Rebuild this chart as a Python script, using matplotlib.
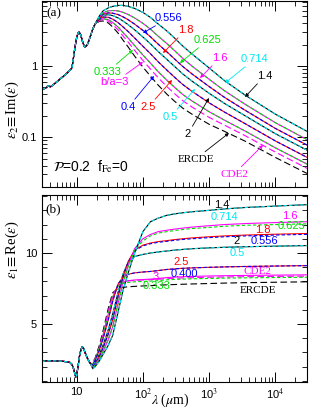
import matplotlib
matplotlib.use('Agg')
import matplotlib.pyplot as plt
import matplotlib.ticker as ticker

plt.rcParams['font.family'] = ['Liberation Sans', 'DejaVu Sans']
plt.rcParams['mathtext.fontset'] = 'stix'

# wavelengths (micron); the short part is shared by every curve
lam_short_a = [3, 3.4, 3.7, 4.0, 4.5, 5, 6, 7, 8, 8.5, 9.0, 9.5, 10, 10.5, 10.9,
               11.5, 12.2, 13.0, 13.5, 14.5, 15.5, 16.5]
eps2_short = [0.47, 0.49, 0.53, 0.51, 0.55, 0.60, 0.69, 0.78, 0.88, 0.95, 1.35,
              1.9, 2.5, 2.9, 3.0, 2.75, 2.25, 1.9, 1.85, 2.0, 2.35, 2.8]
lam_short_b = [3, 3.5, 4, 5, 6, 7, 7.9, 8.5, 9.0, 9.4, 9.7, 10.0, 10.5, 11.0,
               11.6, 12.2, 12.8, 13.5, 14.5, 15.5, 16.5]
eps1_short = [2.35, 2.42, 2.42, 2.40, 2.38, 2.35, 2.3, 2.15, 1.85, 1.5, 1.27,
              1.4, 2.0, 2.7, 3.2, 3.4, 3.25, 2.95, 2.6, 2.35, 2.15]
lam_long = [17.5, 19, 22, 25, 30, 35, 42, 50, 60, 75, 100, 130, 170, 230, 300,
            400, 550, 1000, 1700, 3500, 10000, 30000]

# Im(eps), long-wavelength part
e2_14 = [3.3, 3.90, 5.06, 5.95, 6.56, 6.89, 7.11, 7.11, 6.89, 6.45, 5.67, 4.82, 3.90,
         3.11, 2.48, 1.91, 1.48, 0.94, 0.625, 0.39, 0.211, 0.121]
e2_16 = [3.3, 3.91, 4.89, 5.58, 5.96, 6.03, 5.96, 5.69, 5.30, 4.74, 3.98, 3.30, 2.63,
         2.07, 1.65, 1.28, 1.00, 0.652, 0.451, 0.290, 0.160, 0.0927]
e2_18 = [3.3, 3.91, 4.77, 5.35, 5.58, 5.53, 5.30, 4.92, 4.47, 3.88, 3.17, 2.58, 2.03,
         1.585, 1.26, 0.986, 0.776, 0.515, 0.364, 0.239, 0.133, 0.0776]
e2_2 = [3.3, 3.91, 4.67, 5.15, 5.27, 5.11, 4.76, 4.30, 3.81, 3.23, 2.56, 2.05, 1.60,
        1.24, 0.989, 0.774, 0.615, 0.414, 0.299, 0.200, 0.112, 0.0659]
e2_25 = [3.3, 3.91, 4.53, 4.88, 4.85, 4.56, 4.09, 3.56, 3.05, 2.48, 1.90, 1.49, 1.15,
         0.877, 0.698, 0.550, 0.442, 0.304, 0.226, 0.155, 0.0887, 0.0522]
e2_3 = [3.3, 3.91, 4.41, 4.62, 4.49, 4.10, 3.55, 2.97, 2.47, 1.94, 1.43, 1.10, 0.834,
        0.632, 0.504, 0.398, 0.324, 0.228, 0.174, 0.122, 0.0710, 0.0420]
e2_cde2 = [3.3, 3.91, 4.33, 4.48, 4.28, 3.84, 3.24, 2.65, 2.17, 1.66, 1.20, 0.908,
           0.684, 0.515, 0.410, 0.326, 0.266, 0.190, 0.148, 0.105, 0.0618, 0.0366]
e2_ercde = [3.3, 3.90, 4.24, 4.30, 4.03, 3.54, 2.92, 2.32, 1.85, 1.38, 0.968, 0.723,
            0.540, 0.403, 0.321, 0.256, 0.211, 0.152, 0.121, 0.088, 0.052, 0.031]

# Re(eps), long-wavelength part
e1_14 = [1.85, 2.0, 2.4, 2.85, 3.5, 4.2, 5.8, 7.35, 8.6, 10.0, 11.5, 12.2, 12.45, 12.65,
         12.75, 12.83, 12.9, 13.0, 13.1, 13.2, 13.3, 13.4]
e1_16 = [1.9, 2.1, 2.55, 3.05, 3.9, 4.8, 6.4, 7.9, 9.1, 10.3, 11.0, 11.3, 11.5, 11.6,
         11.68, 11.75, 11.82, 11.92, 12.0, 12.07, 12.14, 12.2]
e1_0625 = [1.9, 2.1, 2.55, 3.05, 3.9, 4.8, 6.4, 7.9, 9.05, 10.2, 10.85, 11.2, 11.4, 11.5,
           11.58, 11.65, 11.72, 11.8, 11.88, 11.95, 12.0, 12.05]
e1_18 = [1.95, 2.2, 2.7, 3.3, 4.3, 5.3, 6.9, 8.3, 9.4, 10.2, 10.55, 10.7, 10.8, 10.87,
         10.94, 11.0, 11.06, 11.14, 11.2, 11.26, 11.32, 11.37]
e1_0556 = [1.95, 2.2, 2.7, 3.3, 4.3, 5.3, 6.9, 8.3, 9.35, 10.15, 10.5, 10.65, 10.75,
           10.82, 10.89, 10.95, 11.0, 11.08, 11.14, 11.2, 11.26, 11.31]
e1_2 = [2.0, 2.3, 2.85, 3.5, 4.6, 5.7, 7.2, 8.5, 9.35, 9.75, 9.9, 10.0, 10.07, 10.14,
        10.2, 10.25, 10.3, 10.36, 10.4, 10.44, 10.48, 10.52]
e1_25 = [2.1, 2.45, 3.15, 3.95, 5.3, 6.6, 7.8, 8.3, 8.5, 8.6, 8.66, 8.7, 8.76, 8.84,
         8.88, 8.92, 8.95, 8.99, 9.02, 9.05, 9.08, 9.11]
e1_3 = [2.2, 2.5, 3.3, 4.2, 5.7, 6.9, 7.7, 7.95, 8.05, 8.1, 8.13, 8.16, 8.2, 8.27, 8.3,
        8.33, 8.35, 8.38, 8.4, 8.42, 8.44, 8.46]
e1_0333 = [2.2, 2.5, 3.3, 4.2, 5.7, 6.9, 7.65, 7.85, 7.93, 7.97, 8.0, 8.02, 8.05, 8.11,
           8.14, 8.16, 8.18, 8.21, 8.23, 8.25, 8.27, 8.29]
e1_cde2 = [2.25, 2.55, 3.35, 4.3, 5.9, 7.0, 7.7, 7.95, 8.03, 8.07, 8.1, 8.12, 8.15,
           8.19, 8.22, 8.24, 8.26, 8.29, 8.31, 8.33, 8.35, 8.37]
e1_ercde = [2.3, 2.6, 3.5, 4.5, 6.1, 7.2, 7.5, 7.58, 7.62, 7.65, 7.68, 7.7, 7.73, 7.76,
            7.78, 7.8, 7.82, 7.85, 7.88, 7.91, 7.94, 7.97]

MAG, GRN, CYN, BLU, RED, BLK = '#ff00ff', '#00dd00', '#00e8f0', '#0000ff', '#ff0000', 'k'

# (top data, bottom data, colour, line style) ; prolate first, oblate partner dashed on top
curves = [
    (e2_ercde, e1_ercde, BLK, (0, (6, 3))),
    (e2_cde2, e1_cde2, MAG, (0, (6, 3))),
    (e2_3, e1_3, MAG, '-'), (e2_3, e1_0333, GRN, (0, (3, 2))),
    (e2_25, e1_25, RED, '-'), (e2_25, e1_25, BLU, (0, (3, 2))),
    (e2_2, e1_2, BLK, '-'), (e2_2, e1_2, CYN, (0, (3, 2))),
    (e2_18, e1_18, RED, '-'), (e2_18, e1_0556, BLU, (0, (3, 2))),
    (e2_16, e1_16, MAG, '-'), (e2_16, e1_0625, GRN, (0, (3, 2))),
    (e2_14, e1_14, BLK, '-'), (e2_14, e1_14, CYN, (0, (3, 2))),
]

fig = plt.figure(figsize=(3.14, 4.11), dpi=100)
axa = fig.add_axes([42/314, 1-187/411, 265/314, 186/411])
axb = fig.add_axes([42/314, 1-382/411, 265/314, 187/411])

for top, bot, c, ls in curves:
    axa.plot(lam_short_a + lam_long, eps2_short + top, color=c, ls=ls, lw=0.8)
    axb.plot(lam_short_b + lam_long, eps1_short + bot, color=c, ls=ls, lw=0.8)

for ax in (axa, axb):
    ax.set_xscale('log')
    ax.set_xlim(3, 3e4)
    ax.tick_params(which='both', direction='in', top=True, right=True, labelsize=8)
    ax.tick_params(which='major', length=7, width=0.7)
    ax.tick_params(which='minor', length=3.5, width=0.6)
    ax.xaxis.set_minor_locator(ticker.LogLocator(base=10, subs=range(2, 10), numticks=20))
    for s in ax.spines.values():
        s.set_linewidth(0.8)

axa.set_yscale('log')
axa.set_ylim(0.02, 8.2)
axa.yaxis.set_major_locator(ticker.FixedLocator([0.1, 1]))
axa.yaxis.set_major_formatter(ticker.FixedFormatter(['0.1', '1']))
axa.yaxis.set_minor_locator(ticker.LogLocator(base=10, subs=range(2, 10), numticks=20))
axa.yaxis.set_minor_formatter(ticker.NullFormatter())
axa.xaxis.set_major_formatter(ticker.NullFormatter())

axb.set_ylim(0.92, 14.08)
axb.yaxis.set_major_locator(ticker.FixedLocator([5, 10]))
axb.yaxis.set_minor_locator(ticker.MultipleLocator(1))
axb.xaxis.set_major_locator(ticker.FixedLocator([10, 100, 1000, 10000]))
axb.xaxis.set_major_formatter(ticker.FixedFormatter(['10', '10$^2$', '10$^3$', '10$^4$']))
axb.xaxis.set_minor_formatter(ticker.NullFormatter())

serif = ['Liberation Serif', 'DejaVu Serif']
fig.text(12/314, 1-110/411, r'$\epsilon_2\!\equiv$Im($\epsilon$)', rotation=90,
         ha='center', va='center', fontsize=10.5, family=serif)
fig.text(12/314, 1-250/411, r'$\epsilon_1\!\equiv$Re($\epsilon$)', rotation=90,
         ha='center', va='center', fontsize=10.5, family=serif)
fig.text(170/314, 1-400/411, r'$\lambda$ ($\mu$m)', ha='center', va='center',
         fontsize=10, family=serif)


def fa(px, py):
    return ((px - 42) / 265, (187 - py) / 186)


def fb(px, py):
    return ((px - 42) / 265, (382 - py) / 187)


axa.text(*fa(46, 13), '(a)', fontsize=9.5, family=serif, va='center',
         transform=axa.transAxes)
axb.text(*fb(45, 209), '(b)', fontsize=9.5, family=serif, va='center',
         transform=axb.transAxes)
axa.text(*fa(53, 167), r'$\mathcal{P}$=0.2  f$_{\rm Fe}$=0', fontsize=10,
         va='center', transform=axa.transAxes)

# labels with arrows in panel (a): text, colour, text pos, arrow tip, ha, va
arrow_labels = [
    ('0.556', BLU, (155, 18), (143, 33), 'left', 'center'),
    ('1.8', RED, (178, 30), (163, 53), 'left', 'center'),
    ('0.625', GRN, (194, 40), (180, 63), 'left', 'center'),
    ('1.6', MAG, (212, 58), (200, 78), 'left', 'center'),
    ('0.714', CYN, (241, 59), (225, 83), 'left', 'center'),
    ('1.4', BLK, (257, 76), (245, 97), 'left', 'center'),
    ('0.5', CYN, (178, 117), (195, 89), 'right', 'center'),
    ('2', BLK, (191, 134), (209, 98), 'right', 'center'),
    ('ERCDE', BLK, (214, 159), (229, 133), 'right', 'center'),
    ('CDE2', MAG, (248, 174), (263, 145), 'right', 'center'),
    ('2.5', RED, (156, 107), (172, 80), 'right', 'center'),
    ('0.4', BLU, (136, 107), (154, 76), 'right', 'center'),
    ('b/a=3', MAG, (129, 82), (143, 62), 'right', 'center'),
    ('0.333', GRN, (121, 72), (133, 50), 'right', 'center'),
]
for txt, c, tp, tip, ha, va in arrow_labels:
    fam = serif if txt in ('CDE2', 'ERCDE') else None
    axa.annotate(txt, xy=fa(*tip), xytext=fa(*tp), xycoords='axes fraction',
                 textcoords='axes fraction', color=c, fontsize=8, ha=ha, va=va,
                 family=fam,
                 arrowprops=dict(arrowstyle='-|>', color=c, lw=0.6, mutation_scale=5,
                                 shrinkA=0, shrinkB=0))

# labels in panel (b)
plain_labels = [
    ('1.4', BLK, (222, 205)), ('0.714', CYN, (224, 217)), ('1.6', MAG, (290, 216)),
    ('0.625', GRN, (291, 226)), ('1.8', RED, (263, 230)), ('2', BLK, (237, 241)),
    ('0.556', BLU, (264, 241)), ('0.5', CYN, (237, 253)), ('2.5', RED, (181, 262)),
    ('0.400', BLU, (184, 274)), ('3', MAG, (156, 277)), ('0.333', GRN, (157, 286)),
    ('CDE2', MAG, (257, 271)), ('ERCDE', BLK, (258, 290)),
]
for txt, c, pos in plain_labels:
    fam = serif if txt in ('CDE2', 'ERCDE') else None
    axb.text(*fb(*pos), txt, color=c, fontsize=8, ha='center', va='center',
             family=fam, transform=axb.transAxes)

fig.savefig('out.png', dpi=100)
